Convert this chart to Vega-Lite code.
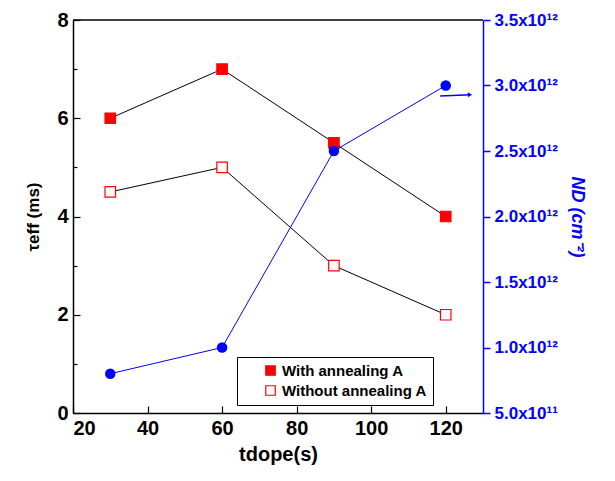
{
  "$schema": "https://vega.github.io/schema/vega-lite/v6.json",
  "width": 410,
  "height": 393,
  "autosize": {"type": "none"},
  "padding": {"left": 73, "top": 20, "right": 132, "bottom": 68},
  "background": "white",
  "config": {
    "font": "Liberation Sans",
    "view": {"stroke": null},
    "axis": {"labelFont": "Liberation Sans", "titleFont": "Liberation Sans", "labelFontWeight": "bold", "titleFontWeight": "bold", "grid": false}
  },
  "datasets": {
    "tau": [
      {"t": 30, "tau": 6, "series": "With annealing A"},
      {"t": 60, "tau": 7, "series": "With annealing A"},
      {"t": 90, "tau": 5.5, "series": "With annealing A"},
      {"t": 120, "tau": 4, "series": "With annealing A"},
      {"t": 30, "tau": 4.5, "series": "Without annealing A"},
      {"t": 60, "tau": 5, "series": "Without annealing A"},
      {"t": 90, "tau": 3, "series": "Without annealing A"},
      {"t": 120, "tau": 2, "series": "Without annealing A"}
    ],
    "nd": [
      {"t": 30, "nd": 8.0e11},
      {"t": 60, "nd": 1.0e12},
      {"t": 90, "nd": 2.5e12},
      {"t": 120, "nd": 3.0e12}
    ],
    "arrow": [
      {"t": 118.5, "nd": 2.92e12, "t2": 126.5, "nd2": 2.93e12}
    ],
    "top": [
      {"t": 20, "t2": 130, "tau": 8}
    ]
  },
  "layer": [
    {
      "layer": [
        {
          "data": {"name": "tau"},
          "mark": {"type": "line", "color": "black", "strokeWidth": 1},
          "encoding": {
            "x": {"field": "t", "type": "quantitative", "scale": {"domain": [20, 130], "nice": false},
              "axis": {"values": [20,30,40,50,60,70,80,90,100,110,120,130], "labelExpr": "datum.value % 20 === 0 && datum.value < 130 ? datum.label : ''",
                "title": "tdope(s)", "titleFontSize": 20, "titlePadding": 6, "labelFontSize": 20, "labelColor": "black", "domainColor": "black", "domainWidth": 1.5, "tickColor": "black", "tickWidth": 1.2,
                "tickSize": {"condition": {"test": "datum.value % 20 === 0", "value": -7}, "value": -4}, "labelPadding": 12, "titleColor": "black"}},
            "y": {"field": "tau", "type": "quantitative", "scale": {"domain": [0, 8], "nice": false},
              "axis": {"values": [0,1,2,3,4,5,6,7,8], "labelExpr": "datum.value % 2 === 0 ? datum.label : ''", "title": "τeff (ms)", "titleFontSize": 17, "titlePadding": 14,
                "labelFontSize": 20, "labelColor": "black", "domainColor": "black", "domainWidth": 1.5, "tickColor": "black", "tickWidth": 1.2,
                "tickSize": {"condition": {"test": "datum.value % 2 === 0", "value": -7}, "value": -4}, "labelPadding": 12, "titleColor": "black"}},
            "detail": {"field": "series"}
          }
        },
        {
          "data": {"name": "top"},
          "mark": {"type": "rule", "color": "black", "strokeWidth": 1.5},
          "encoding": {"x": {"field": "t", "type": "quantitative"}, "x2": {"field": "t2"}, "y": {"field": "tau", "type": "quantitative"}}
        },
        {
          "data": {"name": "tau"},
          "mark": {"type": "point", "shape": "square", "size": 110, "stroke": "#ff0000", "strokeWidth": 1.2, "opacity": 1},
          "encoding": {
            "x": {"field": "t", "type": "quantitative"},
            "y": {"field": "tau", "type": "quantitative"},
            "fill": {"field": "series", "type": "nominal", "scale": {"domain": ["With annealing A", "Without annealing A"], "range": ["#ff0000", "white"]},
              "legend": {"title": null, "orient": "none", "legendX": 164, "legendY": 337, "direction": "vertical", "labelFontSize": 15, "labelFontWeight": "bold", "labelFont": "Liberation Sans", "labelColor": "black",
                "symbolType": "square", "symbolSize": 90, "symbolStrokeColor": "#ff0000", "symbolStrokeWidth": 1.2, "strokeColor": "black", "fillColor": "white", "padding": 6, "rowPadding": 4, "symbolOffset": 20}}
          }
        }
      ]
    },
    {
      "layer": [
        {
          "data": {"name": "nd"},
          "mark": {"type": "line", "color": "#0000ff", "strokeWidth": 1},
          "encoding": {
            "x": {"field": "t", "type": "quantitative"},
            "y": {"field": "nd", "type": "quantitative", "scale": {"domain": [5e11, 3.5e12], "nice": false},
              "axis": {"orient": "right", "values": [5e11, 7.5e11, 1e12, 1.25e12, 1.5e12, 1.75e12, 2e12, 2.25e12, 2.5e12, 2.75e12, 3e12, 3.25e12, 3.5e12],
                "labelExpr": "datum.value % 5e11 !== 0 ? '' : (datum.value >= 1e12 ? format(datum.value/1e12, '.1f') + 'x10¹²' : format(datum.value/1e11, '.1f') + 'x10¹¹')",
                "title": "ND (cm⁻²)", "titleFontSize": 18, "titleFontStyle": "italic", "titleColor": "#0000ff", "titlePadding": 10, "labelFontSize": 17, "labelColor": "#0000ff", "domainColor": "#0000ff", "domainWidth": 1.5,
                "tickColor": "#0000ff", "tickWidth": 1.5, "tickSize": {"condition": {"test": "datum.value % 5e11 === 0", "value": 7}, "value": 4}, "labelPadding": 4}}
          }
        },
        {
          "data": {"name": "nd"},
          "mark": {"type": "point", "shape": "circle", "size": 110, "filled": true, "color": "#0000ff", "opacity": 1},
          "encoding": {
            "x": {"field": "t", "type": "quantitative"},
            "y": {"field": "nd", "type": "quantitative"}
          }
        },
        {
          "data": {"name": "arrow"},
          "mark": {"type": "rule", "color": "#0000ff", "strokeWidth": 1.5},
          "encoding": {
            "x": {"field": "t", "type": "quantitative"},
            "x2": {"field": "t2"},
            "y": {"field": "nd", "type": "quantitative"},
            "y2": {"field": "nd2"}
          }
        },
        {
          "data": {"name": "arrow"},
          "mark": {"type": "point", "shape": "triangle-right", "size": 25, "filled": true, "color": "#0000ff", "opacity": 1},
          "encoding": {
            "x": {"field": "t2", "type": "quantitative"},
            "y": {"field": "nd2", "type": "quantitative"}
          }
        }
      ]
    }
  ],
  "resolve": {"scale": {"y": "independent"}}
}
